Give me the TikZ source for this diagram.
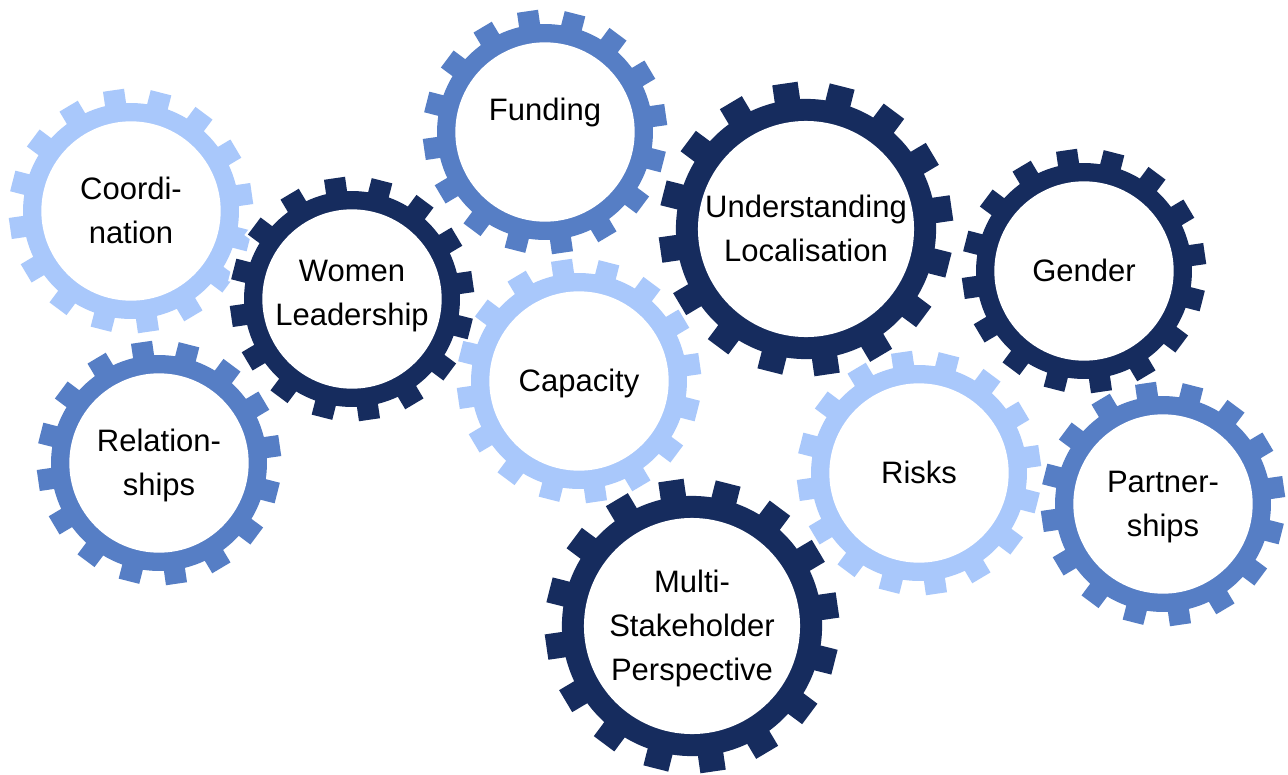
\documentclass[tikz,border=0pt]{standalone}
\usepackage{fontspec}
\setmainfont{Liberation Sans}
\definecolor{gearlight}{HTML}{A9C8FB}
\definecolor{gearmid}{HTML}{567EC5}
\definecolor{geardark}{HTML}{162C5E}
\newcommand\gline[1]{\smash{#1}\vphantom{X}}
\tikzset{
  gearedge/.style={draw=white, line width=5pt},
  gearlabel/.style={align=center, inner sep=0pt, text=black,
    font=\fontsize{31}{44}\selectfont},
}
% #1 name, #2 x, #3 y, #4 outer radius, #5 colour, #6 label y, #7 text
\newcommand\drawgear[7]{%
  \begin{scope}[shift={(#2,-#3)}, rotate=-3]
    \foreach \k in {0,...,15}{
      \draw[gearedge, rotate=11.25+22.5*\k] (0.8*#4,-0.087*#4) rectangle (#4,0.087*#4);}
    \draw[gearedge] (0,0) circle ({0.885*#4});
    \foreach \k in {0,...,15}{
      \fill[#5, rotate=11.25+22.5*\k] (0.8*#4,-0.087*#4) rectangle (#4,0.087*#4);}
    \fill[#5] (0,0) circle ({0.885*#4});
    \fill[white] (0,0) circle ({0.735*#4});
  \end{scope}
  \node[gearlabel] (#1) at (#2,-#6) {#7};
}
\begin{document}
\begin{tikzpicture}[x=1pt, y=1pt]
  \fill[white] (0,0) rectangle (1288,-774);
  \useasboundingbox (0,0) rectangle (1288,-774);
  \drawgear{coord}{131}{211}{122}{gearlight}{211}{\gline{Coordi-}\\\gline{nation}}
  \drawgear{cap}{579}{381}{122}{gearlight}{381}{\gline{Capacity}}
  \drawgear{risk}{919}{473}{122}{gearlight}{473}{\gline{Risks}}
  \drawgear{rel}{159}{463}{122}{gearmid}{463}{\gline{Relation-}\\\gline{ships}}
  \drawgear{fund}{545}{132}{122}{gearmid}{110}{\gline{Funding}}
  \drawgear{part}{1163}{504}{122}{gearmid}{504}{\gline{Partner-}\\\gline{ships}}
  \drawgear{women}{352}{299}{122}{geardark}{293}{\gline{Women}\\\gline{Leadership}}
  \drawgear{under}{806}{229}{147}{geardark}{229}{\gline{Understanding}\\\gline{Localisation}}
  \drawgear{gender}{1084}{271}{122}{geardark}{271}{\gline{Gender}}
  \drawgear{multi}{692}{626}{147}{geardark}{626}{\gline{Multi-}\\\gline{Stakeholder}\\\gline{Perspective}}
\end{tikzpicture}
\end{document}
